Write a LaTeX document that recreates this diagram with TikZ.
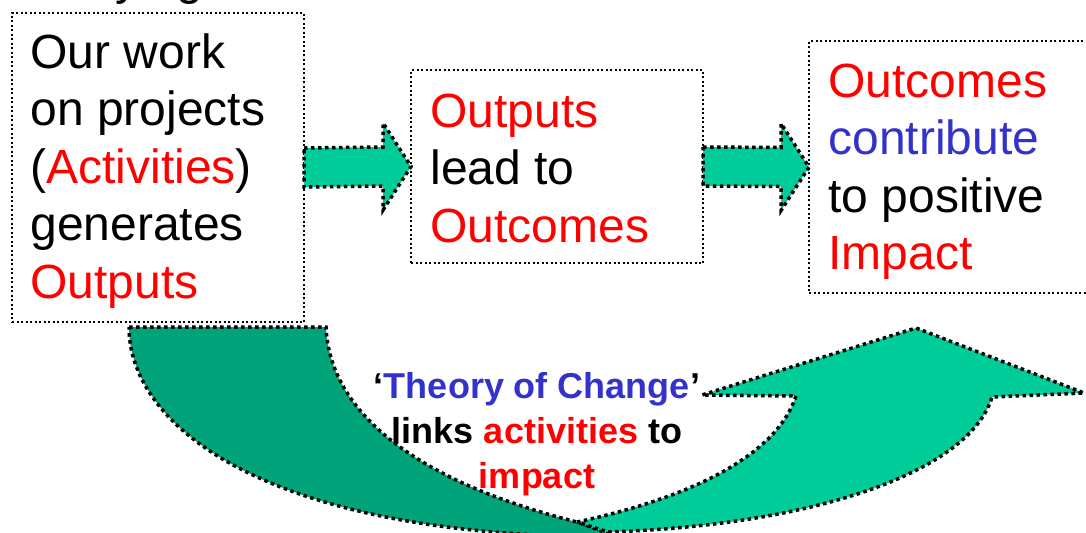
\documentclass[tikz,border=0pt]{standalone}
\usepackage{fontspec}
\setmainfont{Liberation Sans}
\usetikzlibrary{calc}
\definecolor{tred}{RGB}{255,0,0}
\definecolor{tblue}{RGB}{51,51,204}
\definecolor{lgreen}{RGB}{0,204,153}
\definecolor{dgreen}{RGB}{0,163,122}
\begin{document}
\begin{tikzpicture}[x=0.5pt,y=-0.5pt,
  box/.style={draw=black,line width=1pt,dash pattern=on 1pt off 1.25pt,inner sep=0pt,outer sep=0pt,anchor=north west},
  blk/.style={draw=black,line width=1.75pt,dash pattern=on 1.75pt off 1.75pt,line join=miter},
  big/.style={anchor=base west,inner sep=0pt,font=\fontsize{24}{28}\selectfont},
  mid/.style={anchor=base,inner sep=0pt,font=\fontsize{18}{22}\selectfont\bfseries}]
\useasboundingbox (0,0) rectangle (1086,532);
\clip (0,0) rectangle (1086,532);
% cut-off fragment at the top
\node[big] (fy) at (115,-6) {y};
\node[big] (fg) at (176,-6) {g};
% boxes
\node[box,minimum width=146pt,minimum height=154.5pt] (b1) at (12,13) {};
\node[box,minimum width=146pt,minimum height=96.5pt] (b2) at (411,70) {};
\node[box,minimum width=145pt,minimum height=126pt] (b3) at (809,41) {};
% box texts
\node[big] (t11) at (30,68) {Our work};
\node[big] (t12) at (30,125.5) {on projects};
\node[big] (t13) at (30,183) {(\textcolor{tred}{Activities})};
\node[big] (t14) at (30,240.5) {generates};
\node[big,text=tred] (t15) at (30,298) {Outputs};
\node[big,text=tred] (t21) at (430,127) {Outputs};
\node[big] (t22) at (430,184.5) {lead to};
\node[big,text=tred] (t23) at (430,242) {Outcomes};
\node[big,text=tred] (t31) at (828,97) {Outcomes};
\node[big,text=tblue] (t32) at (828,154.5) {contribute};
\node[big] (t33) at (828,212) {to positive};
\node[big,text=tred] (t34) at (828,269.5) {Impact};
% block arrows between boxes
\draw[blk,fill=lgreen] ($(b1.east)+(0,-19.5)$) -- ($(b2.west)+(-28,-19.5)$) -- ($(b2.west)+(-28,-43.5)$) -- (b2.west) -- ($(b2.west)+(-28,43.5)$) -- ($(b2.west)+(-28,19.5)$) -- ($(b1.east)+(0,19.5)$) -- cycle;
\draw[blk,fill=lgreen] ($(b2.east)+(0,-19.5)$) -- ($(b3.west)+(-28,-19.5)$) -- ($(b3.west)+(-28,-43.5)$) -- (b3.west) -- ($(b3.west)+(-28,43.5)$) -- ($(b3.west)+(-28,19.5)$) -- ($(b2.east)+(0,19.5)$) -- cycle;
% curved up arrow: dark back part
\draw[blk,fill=dgreen] (129,327) -- (326,327) .. controls (330,420) and (430,485) .. (577,522) -- (615,536) -- (560,536) .. controls (250,525) and (129,420) .. (129,327) -- cycle;
% curved up arrow: light front part with head
\draw[blk,fill=lgreen] (577,522) .. controls (680,500) and (775,460) .. (796,396) -- (702,395) -- (916,328) -- (1084,393) -- (992,397) .. controls (970,470) and (820,525) .. (608,532) -- cycle;
% middle label
\node[mid] (m1) at (537,398) {‘\textcolor{tblue}{Theory of Change}’};
\node[mid] (m2) at (537,443) {links \textcolor{tred}{activities} to};
\node[mid,text=tred] (m3) at (537,488) {impact};
\end{tikzpicture}
\end{document}
